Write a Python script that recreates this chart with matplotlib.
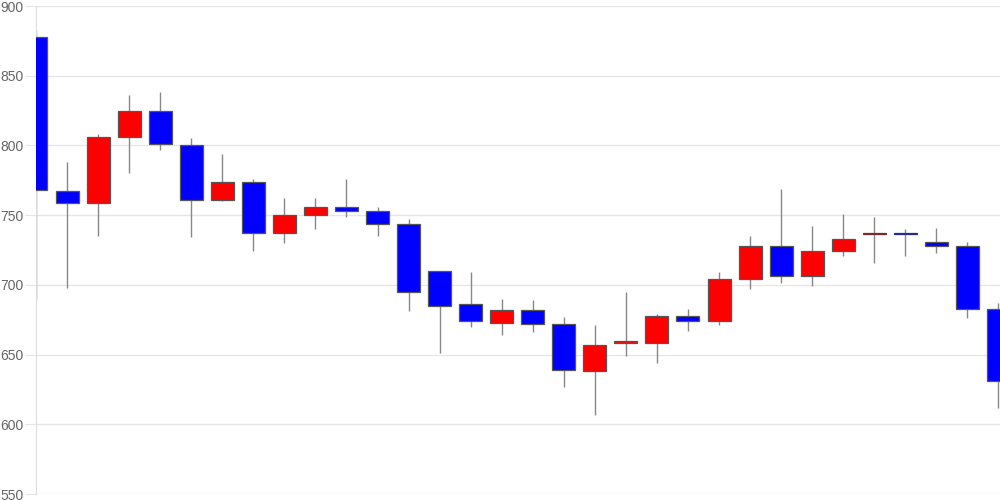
import numpy as np
import matplotlib
matplotlib.use("Agg")
import matplotlib.pyplot as plt

plt.rcParams['font.family'] = ['Liberation Sans', 'DejaVu Sans']

# daily OHLC values
opens = [878, 767, 759, 806, 825, 800, 761, 774, 737, 750, 756, 753, 744, 710, 686, 673,
         682, 672, 638, 658, 658, 678, 674, 704, 728, 706, 724, 736.5, 737, 731, 728, 683]
closes = [768, 759, 806, 825, 801, 761, 774, 737, 750, 756, 753, 744, 695, 685, 674, 682,
          672, 639, 657, 660, 678, 674, 704, 728, 706, 724, 733, 737, 736.5, 728, 683, 631]
highs = [883, 788, 808, 836, 838, 805, 794, 776, 762, 762, 776, 756, 747, 710, 709, 690,
         689, 677, 671, 695, 679, 683, 709, 735, 769, 742, 751, 749, 740, 741, 731, 687]
lows = [689, 698, 735, 780, 797, 734, 760, 724, 730, 740, 749, 735, 681, 651, 670, 664,
        666, 627, 607, 649, 644, 667, 671, 697, 701, 699, 721, 716, 721, 723, 676, 612]
y_ticks = [550, 600, 650, 700, 750, 800, 850, 900]

UP = "#ff0000"
DOWN = "#0000ff"


def candles(ax):
    x = np.arange(len(opens))
    o = np.array(opens)
    c = np.array(closes)
    colors = [UP if cc >= oo else DOWN for oo, cc in zip(o, c)]
    # very thin bodies show up as a dark line of their own colour
    edges = []
    for oo, cc in zip(o, c):
        if abs(cc - oo) < 1:
            edges.append("#7a2a2a" if cc >= oo else "#2a2a8a")
        else:
            edges.append("#555555")
    ax.vlines(x, lows, highs, color="#888888", linewidth=1, zorder=2)
    ax.bar(x, c - o, bottom=o, width=0.74, color=colors,
           edgecolor=edges, linewidth=0.9, zorder=3)


fig = plt.figure(figsize=(10, 5), dpi=100)
ax = fig.add_axes([0.036, 0.012, 0.964, 0.976])
candles(ax)

ax.set_xlim(0, 31.05)
ax.set_ylim(550, 900)
ax.set_yticks(y_ticks)
ax.set_xticks([])
ax.grid(axis="y", color="#e6e6e6", linewidth=1, zorder=0)
ax.set_axisbelow(True)
for side in ["top", "right", "bottom"]:
    ax.spines[side].set_visible(False)
ax.spines["left"].set_color("#dddddd")
ax.tick_params(axis="y", length=8, color="#e6e6e6", labelcolor="#666666",
               labelsize=10, pad=1)

fig.savefig("out.png", dpi=100)
